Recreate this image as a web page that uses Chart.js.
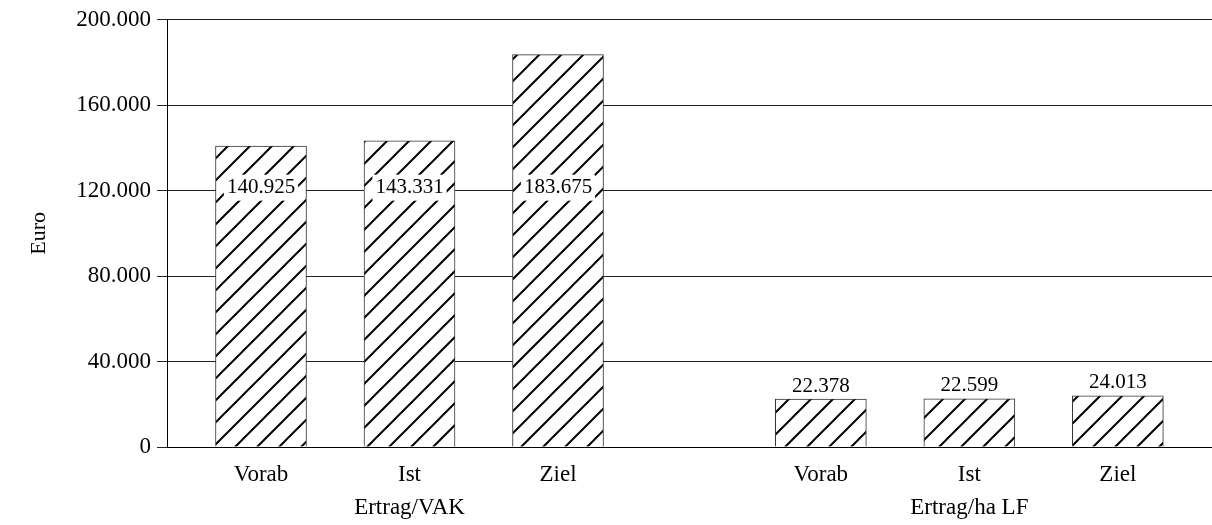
<!DOCTYPE html>
<html>
<head>
<meta charset="utf-8">
<script src="https://cdn.jsdelivr.net/npm/chart.js@4/dist/chart.umd.min.js"></script>
<style>
  html, body { margin: 0; padding: 0; background: #fff; }
  #wrap { width: 1212px; height: 525px; }
</style>
</head>
<body>
<div id="wrap"><canvas id="myChart"></canvas></div>
<script>
// data
const categories = ['Vorab', 'Ist', 'Ziel'];
const groups = ['Ertrag/VAK', 'Ertrag/ha LF'];
const ertragVAK = [140925, 143331, 183675];
const ertragHaLF = [22378, 22599, 24013];
const yTicks = [0, 40000, 80000, 120000, 160000, 200000];

(function () {
    "use strict";

    const FONT = "'Liberation Serif', 'Times New Roman', serif";
    const groupStep = 3.77; // distance between the first bars of the two groups, in bar slots

    // German thousands separator
    function fmt(n) {
        return String(n).replace(/\B(?=(\d{3})+(?!\d))/g, '.');
    }

    // diagonal hatch
    function makeHatch() {
        const s = 22;
        const c = document.createElement('canvas');
        c.width = s; c.height = s;
        const g = c.getContext('2d');
        g.fillStyle = '#fff';
        g.fillRect(0, 0, s, s);
        g.strokeStyle = '#000';
        g.lineWidth = 2;
        g.beginPath();
        g.moveTo(0, s); g.lineTo(s, 0);
        g.moveTo(-2, 2); g.lineTo(2, -2);
        g.moveTo(s - 2, s + 2); g.lineTo(s + 2, s - 2);
        g.stroke();
        return document.getElementById('myChart').getContext('2d').createPattern(c, 'repeat');
    }

    const series = [ertragVAK, ertragHaLF];
    const points = [];
    const xPositions = [];
    series.forEach(function (vals, g) {
        vals.forEach(function (v, i) {
            const x = g * groupStep + i;
            points.push({ x: x, y: v });
            xPositions.push(x);
        });
    });
    const groupCenters = groups.map(function (_, g) { return g * groupStep + 1; });

    const valueLabels = {
        id: 'valueLabels',
        afterDatasetsDraw(chart) {
            const ctx = chart.ctx;
            const yScale = chart.scales.y;
            const meta = chart.getDatasetMeta(0);
            ctx.save();
            ctx.font = '21px ' + FONT;
            ctx.textAlign = 'center';
            ctx.textBaseline = 'middle';
            meta.data.forEach(function (bar, i) {
                const v = points[i].y;
                const txt = fmt(v);
                if (v > 100000) {
                    const y = yScale.getPixelForValue(120000) - 3;
                    const w = ctx.measureText(txt).width + 6;
                    ctx.fillStyle = '#fff';
                    ctx.fillRect(bar.x - w / 2, y - 13, w, 26);
                    ctx.fillStyle = '#000';
                    ctx.fillText(txt, bar.x, y);
                } else {
                    ctx.fillStyle = '#000';
                    ctx.fillText(txt, bar.x, bar.y - 13);
                }
            });
            ctx.restore();
        }
    };

    const ctx = document.getElementById('myChart').getContext('2d');
    const chart = new Chart(ctx, {
        type: 'bar',
        data: {
            datasets: [{
                data: points,
                backgroundColor: makeHatch(),
                borderColor: '#333',
                borderWidth: 1,
                barThickness: 91
            }]
        },
        options: {
            responsive: true,
            maintainAspectRatio: false,
            animation: false,
            layout: { padding: { top: 18, right: 0, left: 0, bottom: 0 } },
            plugins: {
                legend: { display: false },
                tooltip: { enabled: false }
            },
            scales: {
                x: {
                    type: 'linear',
                    offset: false,
                    min: -0.633,
                    max: 6.404,
                    weight: 1,
                    afterBuildTicks: function (scale) {
                        scale.ticks = xPositions.map(function (v) { return { value: v }; });
                    },
                    afterFit: function (scale) { scale.height = 45; },
                    grid: { display: false, drawTicks: false },
                    border: { display: true, color: '#000', width: 1 },
                    ticks: {
                        autoSkip: false,
                        maxRotation: 0,
                        padding: 14,
                        color: '#000',
                        font: { family: FONT, size: 23 },
                        callback: function (value, index) {
                            return categories[index % categories.length];
                        }
                    }
                },
                x2: {
                    type: 'linear',
                    position: 'bottom',
                    offset: false,
                    min: -0.633,
                    max: 6.404,
                    weight: 2,
                    afterBuildTicks: function (scale) {
                        scale.ticks = groupCenters.map(function (v) { return { value: v }; });
                    },
                    afterFit: function (scale) { scale.height = 33; },
                    grid: { display: false, drawTicks: false },
                    border: { display: false },
                    ticks: {
                        autoSkip: false,
                        maxRotation: 0,
                        padding: 2,
                        color: '#000',
                        font: { family: FONT, size: 23 },
                        callback: function (value, index) {
                            return groups[index];
                        }
                    }
                },
                y: {
                    min: 0,
                    max: 200000,
                    afterBuildTicks: function (scale) {
                        scale.ticks = yTicks.map(function (v) { return { value: v }; });
                    },
                    afterFit: function (scale) { scale.width = 167; },
                    grid: {
                        color: '#222',
                        lineWidth: 1,
                        tickLength: 10,
                        drawTicks: true
                    },
                    border: { display: true, color: '#000', width: 1 },
                    ticks: {
                        padding: 6,
                        color: '#000',
                        font: { family: FONT, size: 23 },
                        callback: function (value) { return fmt(value); }
                    },
                    title: {
                        display: true,
                        text: 'Euro',
                        color: '#000',
                        padding: { top: 26, bottom: 0 },
                        font: { family: FONT, size: 22 }
                    }
                }
            }
        },
        plugins: [valueLabels]
    });
})();
</script>
</body>
</html>
